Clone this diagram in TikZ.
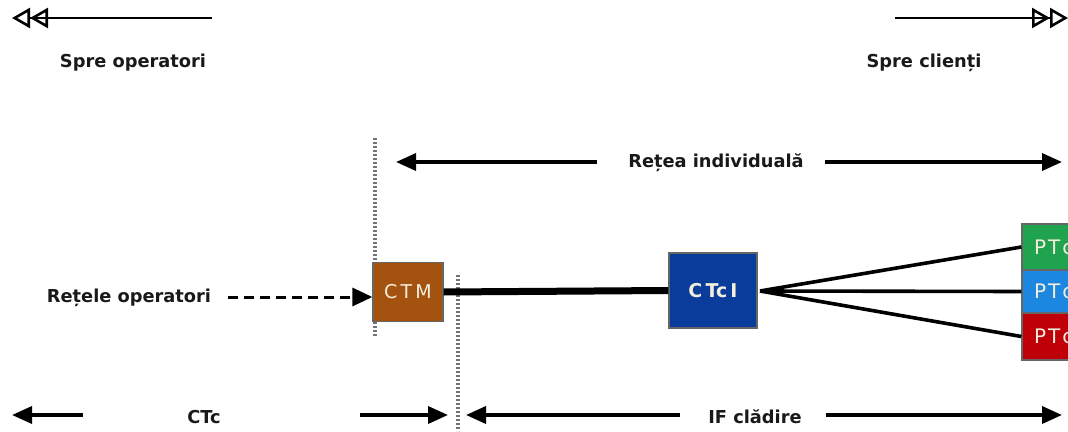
\documentclass[tikz,border=0pt]{standalone}
\usepackage{fontspec}
\setmainfont{DejaVu Sans}
\usetikzlibrary{arrows.meta}
\definecolor{ctmbrown}{HTML}{A4520F}
\definecolor{ctciblue}{HTML}{0A3C9C}
\definecolor{ptgreen}{HTML}{1FA34E}
\definecolor{ptblue}{HTML}{1B87E0}
\definecolor{ptred}{HTML}{C00008}
\definecolor{boxtext}{HTML}{F4EEDC}
\newcommand{\ptlabel}{\makebox[0pt][l]{P\hspace{2pt}T\hspace{2pt}c}}
\tikzset{
  label/.style={font=\bfseries\fontsize{17.8}{20}\selectfont, text=black!90, inner sep=0pt},
  unit/.style={draw=black!60, line width=1.2pt, text=boxtext, inner sep=0pt,
    font=\fontsize{19}{22}\selectfont},
  ptbox/.style={unit, minimum width=62pt, text width=38pt, align=left, font=\fontsize{20}{22}\selectfont},
  dim/.style={line width=3.6pt, -{Triangle[length=20pt,width=17pt]}},
  way/.style={line width=2.6pt, -{Triangle[open,length=18pt,width=20pt,line width=2.6pt] Triangle[open,length=18pt,width=20pt,line width=2.6pt]}},
  border/.style={black!55, line width=3.6pt, dash pattern=on 2pt off 2pt},
  fan/.style={line width=3.6pt, black}
}
\begin{document}
\begin{tikzpicture}[x=1pt,y=-1pt]
\useasboundingbox (0,0) rectangle (1068,431);
\clip (0,0) rectangle (1068,431);
\fill[white] (0,0) rectangle (1068,431);

% directions
\node[label] (spreop) at (133,63) {Spre operatori};
\node[label] (sprecl) at (924,63) {Spre clienți};
\coordinate (wl0) at (212,18);
\coordinate (wl1) at (12,18);
\coordinate (wr0) at (895,18);
\coordinate (wr1) at (1068,18);
\draw[way] (wl0) -- (wl1);
\draw[way] (wr0) -- (wr1);

% boundaries
\coordinate (b1t) at (375,138);
\coordinate (b1b) at (375,336);
\coordinate (b2t) at (458,275);
\coordinate (b2b) at (458,431);
\draw[border] (b1t) -- (b1b);
\draw[border] (b2t) -- (b2b);

% individual network span
\node[label] (retea) at (716,163) {Rețea individuală};
\coordinate (ri0) at (597,162);
\coordinate (ri1) at (396,162);
\coordinate (ri2) at (825,162);
\coordinate (ri3) at (1062,162);
\draw[dim] (ri0) -- (ri1);
\draw[dim] (ri2) -- (ri3);

% equipment
\node[unit, fill=ctmbrown, minimum width=70pt, minimum height=59pt] (ctm) at (408,292) {C\,T\,M};
\node[unit, fill=ctciblue, minimum width=88pt, minimum height=75pt] (ctci) at (713,290.5) {\bfseries C\,Tc\,I};
\node[ptbox, fill=ptgreen, minimum height=46pt] (pt1) at (1053,247) {\ptlabel};
\node[ptbox, fill=ptblue, minimum height=43pt] (pt2) at (1053,291.5) {\ptlabel};
\node[ptbox, fill=ptred, minimum height=47pt] (pt3) at (1053,336.5) {\ptlabel};

\node[label] (retele) at (129,298) {Rețele operatori};
\draw[line width=3pt, dash pattern=on 10pt off 6pt, -{Triangle[length=20pt,width=18pt]}]
  (228,297) -- (ctm.west |- 0,297);

\draw[line width=7pt] (ctm.east) -- (ctci.west);
\coordinate (hub) at (760,291);
\draw[fan] (hub) -- (pt1.west);
\draw[fan] (hub) -- (pt2.west);
\draw[fan] (hub) -- (pt3.west);

% bottom spans
\node[label] (ctc) at (204,417) {CTc};
\node[label] (ifc) at (755,417) {IF clădire};
\coordinate (c0) at (83,415);
\coordinate (c1) at (12,415);
\coordinate (c2) at (360,415);
\coordinate (c3) at (448,415);
\coordinate (f0) at (680,415);
\coordinate (f1) at (466,415);
\coordinate (f2) at (826,415);
\coordinate (f3) at (1062,415);
\draw[dim] (c0) -- (c1);
\draw[dim] (c2) -- (c3);
\draw[dim] (f0) -- (f1);
\draw[dim] (f2) -- (f3);
\end{tikzpicture}
\end{document}
